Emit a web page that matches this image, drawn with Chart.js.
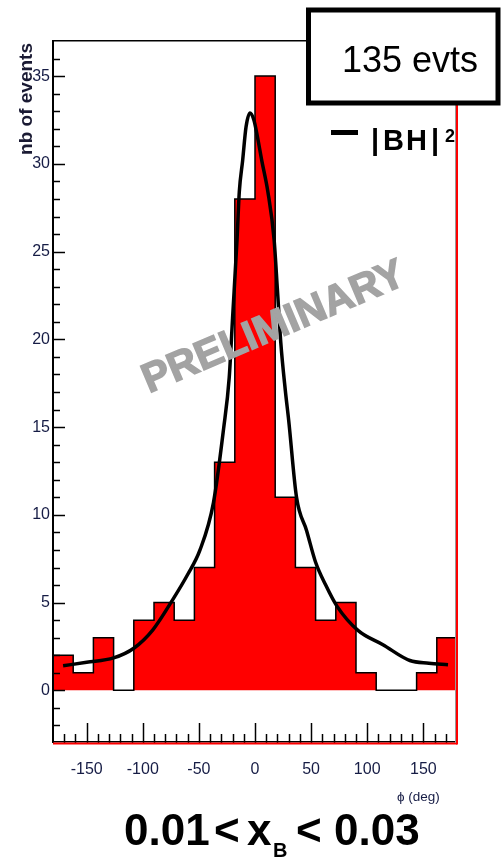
<!DOCTYPE html>
<html>
<head>
<meta charset="utf-8">
<title>phi</title>
<script src="https://cdn.jsdelivr.net/npm/chart.js"></script>
<style>
  html, body { margin: 0; padding: 0; background: #fff; }
  #grafica { display: block; }
</style>
</head>
<body>
<canvas id="grafica" width="503" height="859"></canvas>
<script>
// bordes de los bins en phi (deg)
var binEdges = [-180, -162, -144, -126, -108, -90, -72, -54, -36, -18, 0, 18, 36, 54, 72, 90, 108, 126, 144, 162, 180];
// eventos por bin
var counts = [2, 1, 3, 0, 4, 5, 4, 7, 13, 28, 35, 11, 7, 4, 5, 1, 0, 0, 1, 3];

// curva |BH|^2
var curvePhi = [-171, -150, -126, -108, -91, -73, -60, -49, -37, -28, -23, -20, -16, -14, -11, -8, -4.5, -1, 2, 6, 11.5, 17, 20, 23, 27, 30, 37, 46, 54, 63, 73, 92, 114, 138, 155, 172];
var curveVal = [1.4, 1.6, 1.85, 2.4, 3.45, 5.2, 6.6, 8.0, 10.7, 14.9, 17.8, 21.2, 25.7, 28.4, 30.2, 32.1, 32.9, 32.5, 31.6, 30.2, 28.4, 25.7, 22.8, 19.8, 17.1, 15.4, 11.0, 9.1, 7.3, 6.0, 4.8, 3.4, 2.6, 1.7, 1.55, 1.46];

var xTicks = [-150, -100, -50, 0, 50, 100, 150];
var yTicks = [0, 5, 10, 15, 20, 25, 30, 35];

var totalTxt = '135 evts';

var familia = "'Liberation Sans', Arial, sans-serif";
var azulEje = '#161c45';

// puntos del histograma en escalones (valor desde el borde izquierdo)
var pasos = [];
for (let i in counts) {
    pasos.push({ x: binEdges[i], y: counts[i] });
}
pasos.push({ x: binEdges[binEdges.length - 1], y: counts[counts.length - 1] });

var curva = [];
for (let i in curvePhi) {
    curva.push({ x: curvePhi[i], y: curveVal[i] });
}

// marco, ticks hacia dentro, marca de agua y textos
var decoraciones = {
    id: 'decoraciones',
    afterDraw: function (chart) {
        var ctx = chart.ctx;
        var a = chart.chartArea;
        var sx = chart.scales.x;
        var sy = chart.scales.y;
        ctx.save();

        // ticks eje y
        ctx.strokeStyle = '#000';
        ctx.lineWidth = 1.5;
        for (let v = Math.ceil(sy.min) + 1; v < sy.max; v++) {
            let py = Math.round(sy.getPixelForValue(v)) + 0.5;
            let largo = (v % 5 == 0) ? 12 : 7;
            ctx.beginPath();
            ctx.moveTo(a.left, py);
            ctx.lineTo(a.left + largo, py);
            ctx.stroke();
        }
        // ticks eje x
        for (let v = -170; v <= 170; v += 10) {
            let px = Math.round(sx.getPixelForValue(v)) + 0.5;
            let largo = (v % 50 == 0) ? 20 : 9;
            ctx.beginPath();
            ctx.moveTo(px, a.bottom);
            ctx.lineTo(px, a.bottom - largo);
            ctx.stroke();
        }

        // marco
        ctx.fillStyle = '#000';
        ctx.fillRect(a.left - 1, a.top, 2, a.bottom - a.top);
        ctx.fillRect(a.left - 1, a.top - 1, 260, 1.5);
        ctx.fillRect(a.left - 1, a.bottom - 2, a.right - a.left + 1, 1.5);
        ctx.fillStyle = '#ff0000';
        ctx.fillRect(a.left, a.bottom - 0.5, a.right - a.left, 2);
        ctx.fillRect(a.right - 1, a.top, 2, a.bottom - a.top + 1.5);
        ctx.fillStyle = '#999';
        ctx.fillRect(a.right - 2, a.top, 1, a.bottom - a.top);

        // marca de agua
        ctx.save();
        ctx.translate(274, 328);
        ctx.rotate(-23 * Math.PI / 180);
        ctx.font = 'bold 41px ' + familia;
        ctx.fillStyle = '#a3a3a3';
        ctx.strokeStyle = '#a3a3a3';
        ctx.lineWidth = 1.5;
        ctx.textAlign = 'center';
        ctx.textBaseline = 'middle';
        ctx.fillText('PRELIMINARY', 0, 0);
        ctx.strokeText('PRELIMINARY', 0, 0);
        ctx.restore();

        // titulo eje y
        ctx.save();
        ctx.translate(32, 99);
        ctx.rotate(-Math.PI / 2);
        ctx.font = 'bold 19px ' + familia;
        ctx.fillStyle = '#1a1a33';
        ctx.textAlign = 'center';
        ctx.textBaseline = 'alphabetic';
        ctx.fillText('nb of events', 0, 0);
        ctx.restore();

        // titulo eje x
        ctx.font = '13.5px ' + familia;
        ctx.fillStyle = azulEje;
        ctx.textAlign = 'left';
        ctx.textBaseline = 'alphabetic';
        ctx.fillText('\u03d5 (deg)', 397, 801);

        // caja con el total
        ctx.fillStyle = '#fff';
        ctx.fillRect(308, 10, 190, 93);
        ctx.strokeStyle = '#000';
        ctx.lineWidth = 5;
        ctx.strokeRect(308.5, 10, 189.5, 93);
        ctx.fillStyle = '#000';
        ctx.font = '36px ' + familia;
        ctx.textAlign = 'center';
        ctx.fillText(totalTxt, 410, 72);

        // leyenda de la curva
        ctx.fillRect(331, 130, 27, 5);
        ctx.textAlign = 'left';
        ctx.font = 'bold 29px ' + familia;
        ctx.fillText('|', 371, 150);
        ctx.fillText('B', 383, 150);
        ctx.fillText('H', 406, 150);
        ctx.fillText('|', 431, 150);
        ctx.font = 'bold 18px ' + familia;
        ctx.fillText('2', 445, 142);

        // rango en x_B
        ctx.font = 'bold 44px ' + familia;
        ctx.fillText('0.01', 124, 845);
        ctx.fillText('<', 214, 845);
        ctx.fillText('x', 247, 845);
        ctx.fillText('<', 296, 845);
        ctx.fillText('0.03', 334, 845);
        ctx.font = 'bold 20px ' + familia;
        ctx.fillText('B', 273, 857);

        ctx.restore();
    }
};

var ctx = document.getElementById('grafica').getContext('2d');
var myChart = new Chart(ctx, {
    type: 'line',
    data: {
        datasets: [
            {
                label: '|BH|2',
                data: curva,
                borderColor: '#000',
                borderWidth: 3.5,
                pointRadius: 0,
                cubicInterpolationMode: 'monotone',
                fill: false,
                order: 0
            },
            {
                label: 'datos',
                data: pasos,
                stepped: true,
                borderColor: '#000',
                borderWidth: 1.5,
                backgroundColor: '#ff0000',
                pointRadius: 0,
                fill: 'origin',
                order: 1
            }
        ]
    },
    options: {
        responsive: false,
        animation: false,
        devicePixelRatio: 1,
        layout: { padding: { top: 41, right: 46, left: 0, bottom: 0 } },
        plugins: {
            legend: { display: false },
            tooltip: { enabled: false }
        },
        scales: {
            x: {
                type: 'linear',
                min: -180,
                max: 180,
                grid: { display: false, drawTicks: false },
                border: { display: false },
                afterBuildTicks: function (scale) {
                    scale.ticks = xTicks.map(function (v) { return { value: v }; });
                },
                afterFit: function (scale) { scale.height = 116; },
                ticks: {
                    autoSkip: false,
                    maxRotation: 0,
                    padding: 17,
                    color: azulEje,
                    font: { family: familia, size: 16 }
                }
            },
            y: {
                type: 'linear',
                min: -3,
                max: 37,
                grid: { display: false, drawTicks: false },
                border: { display: false },
                afterBuildTicks: function (scale) {
                    scale.ticks = yTicks.map(function (v) { return { value: v }; });
                },
                afterFit: function (scale) { scale.width = 53; },
                ticks: {
                    autoSkip: false,
                    padding: 3,
                    color: azulEje,
                    font: { family: familia, size: 16 }
                }
            }
        }
    },
    plugins: [decoraciones]
});
</script>
</body>
</html>
